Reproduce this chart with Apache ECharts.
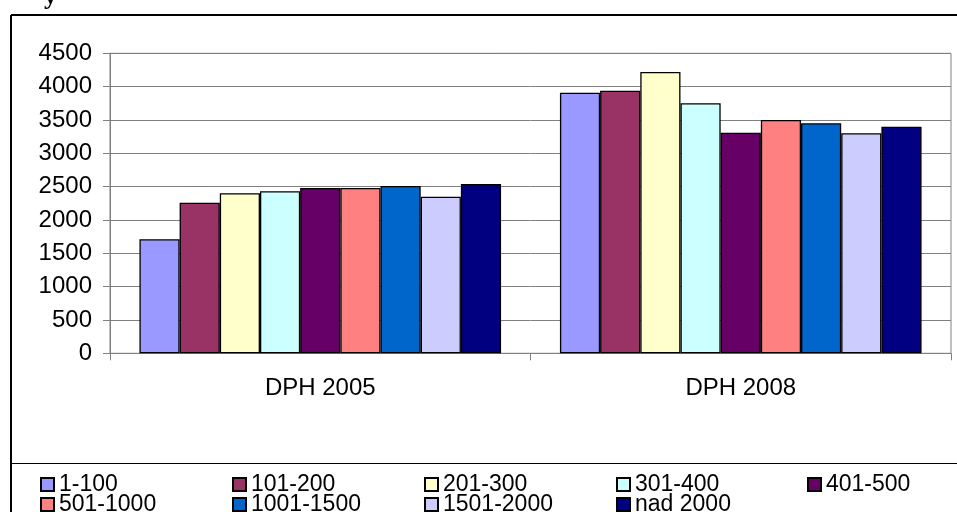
<!DOCTYPE html>
<html>
<head>
<meta charset="utf-8">
<script src="https://cdn.jsdelivr.net/npm/echarts@6/dist/echarts.min.js"></script>
<style>html,body{margin:0;padding:0;background:#fff}#c{width:957px;height:512px}</style>
</head>
<body>
<div id="c"></div>
<script>
var categories = ['DPH 2005', 'DPH 2008'];
var seriesNames = ['1-100', '101-200', '201-300', '301-400', '401-500', '501-1000', '1001-1500', '1501-2000', 'nad 2000'];
var s1_100 = [1710, 3910];
var s101_200 = [2260, 3940];
var s201_300 = [2400, 4220];
var s301_400 = [2430, 3750];
var s401_500 = [2480, 3310];
var s501_1000 = [2480, 3500];
var s1001_1500 = [2510, 3450];
var s1501_2000 = [2350, 3300];
var sNad2000 = [2540, 3400];
var seriesValues = [s1_100, s101_200, s201_300, s301_400, s401_500, s501_1000, s1001_1500, s1501_2000, sNad2000];
var colors = ['#9999FF', '#993366', '#FFFFCC', '#CCFFFF', '#660066', '#FF8080', '#0066CC', '#CCCCFF', '#000080'];
var yTicks = [0, 500, 1000, 1500, 2000, 2500, 3000, 3500, 4000, 4500];

var font = '"Liberation Sans", Arial, sans-serif';
var series = seriesNames.map(function (n, i) {
  return {
    name: n, type: 'bar', data: seriesValues[i],
    barGap: '0%', barCategoryGap: '14%',
    itemStyle: { color: colors[i], borderColor: '#000', borderWidth: 1.3 },
    emphasis: { disabled: true }
  };
});
function legendRow(names, left, top) {
  return {
    left: left, top: top, orient: 'horizontal', itemGap: 0, padding: 0,
    itemWidth: 13, itemHeight: 13, icon: 'rect', selectedMode: false,
    data: names,
    textStyle: { fontFamily: font, fontSize: 23, color: '#000', lineHeight: 20, width: 173, overflow: 'none' }
  };
}
var chart = echarts.init(document.getElementById('c'), null, { renderer: 'canvas' });
chart.setOption({
  animation: false,
  color: colors,
  title: { text: 'y', left: 44, top: -16, padding: 0, textStyle: { fontFamily: '"Liberation Serif", serif', fontWeight: 'bold', fontSize: 26, color: '#000' } },
  grid: { left: 110, right: 6, top: 53.3, bottom: 158.7, show: true, borderColor: '#808080', borderWidth: 1, containLabel: false },
  xAxis: {
    type: 'category', data: categories,
    axisLine: { lineStyle: { color: '#808080', width: 1 } },
    axisTick: { show: true, length: 7, lineStyle: { color: '#808080' } },
    axisLabel: { fontFamily: font, fontSize: 24, color: '#000', margin: 23 }
  },
  yAxis: {
    type: 'value', min: yTicks[0], max: yTicks[yTicks.length - 1], interval: 500,
    axisLine: { show: true, lineStyle: { color: '#808080', width: 1 } },
    axisTick: { show: true, length: 7, lineStyle: { color: '#808080' } },
    splitLine: { lineStyle: { color: '#808080', width: 1 } },
    axisLabel: { fontFamily: font, fontSize: 24, color: '#000', margin: 18, formatter: function (v) { return String(v); } }
  },
  legend: [
    legendRow(seriesNames.slice(0, 4), 40, 473),
    legendRow(seriesNames.slice(4, 5), 807, 473),
    legendRow(seriesNames.slice(5), 40, 493)
  ],
  series: series,
  graphic: [
    { type: 'line', shape: { x1: 11, y1: 15, x2: 957, y2: 15 }, style: { stroke: '#000', lineWidth: 2 } },
    { type: 'line', shape: { x1: 11, y1: 15, x2: 11, y2: 512 }, style: { stroke: '#000', lineWidth: 2 } },
    { type: 'line', shape: { x1: 11, y1: 463.5, x2: 957, y2: 463.5 }, style: { stroke: '#000', lineWidth: 1 } }
  ]
});
</script>
</body>
</html>
